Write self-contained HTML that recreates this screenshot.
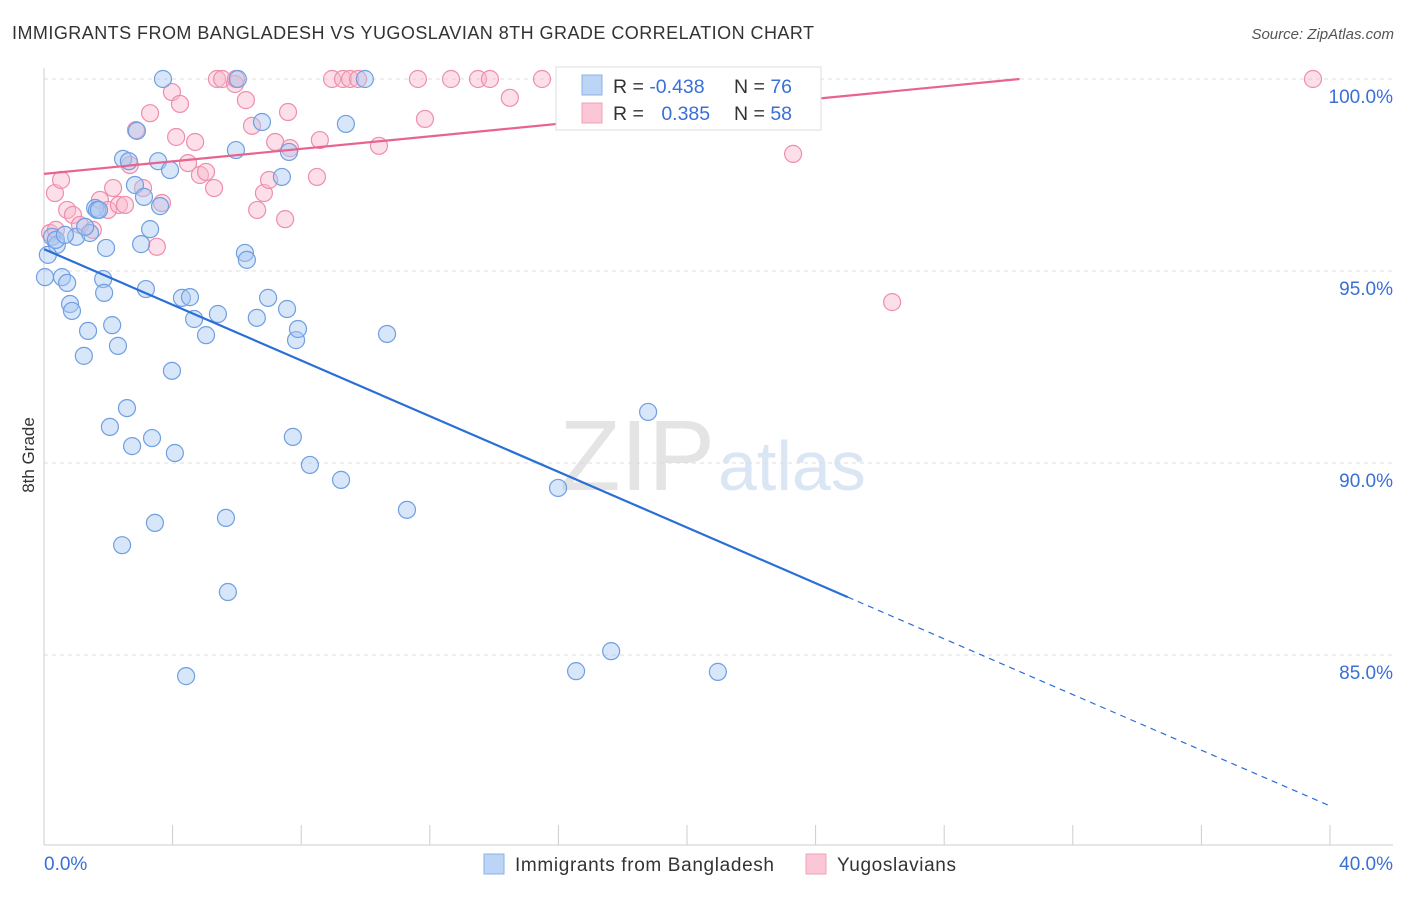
<!DOCTYPE html>
<html><head><meta charset="utf-8"><style>
body{margin:0;background:#fff;font-family:"Liberation Sans",sans-serif;}
svg text{font-family:"Liberation Sans",sans-serif;}
</style></head><body>
<svg id="c" width="1406" height="892" xmlns="http://www.w3.org/2000/svg">
<text x="12" y="39" font-size="18" fill="#333" textLength="802">IMMIGRANTS FROM BANGLADESH VS YUGOSLAVIAN 8TH GRADE CORRELATION CHART</text>
<text x="1394" y="39" font-size="15" fill="#555" text-anchor="end" font-style="italic">Source: ZipAtlas.com</text>
<text x="34" y="455" font-size="17" fill="#333" text-anchor="middle" transform="rotate(-90 34 455)">8th Grade</text>
<text x="715" y="490" font-size="100" fill="#e4e4e4" text-anchor="end" font-family="Liberation Serif">ZIP</text>
<text x="718" y="490" font-size="70" fill="#dbe6f5">atlas</text>
<g id="grid"></g><g id="pts"></g><g id="lines"></g>
<g>
<rect x="556" y="67" width="265" height="63" fill="#fff" stroke="#ddd"/>
<rect x="582" y="75" width="20" height="20" fill="#bcd4f5" stroke="#8ab0e8"/>
<rect x="582" y="103" width="20" height="20" fill="#fbc6d6" stroke="#f0a0b8"/>
<text x="613" y="93" font-size="19.5" fill="#333">R = <tspan fill="#3a6fd6">-0.438</tspan></text>
<text x="734" y="93" font-size="19.5" fill="#333">N = <tspan fill="#3a6fd6">76</tspan></text>
<text x="613" y="120" font-size="19.5" fill="#333">R = <tspan fill="#3a6fd6" dx="12">0.385</tspan></text>
<text x="734" y="120" font-size="19.5" fill="#333">N = <tspan fill="#3a6fd6">58</tspan></text>
</g>
<g>
<rect x="484" y="854" width="20" height="20" fill="#bcd4f5" stroke="#8ab0e8"/>
<text x="515" y="871" font-size="19" fill="#333" textLength="259">Immigrants from Bangladesh</text>
<rect x="806" y="854" width="20" height="20" fill="#fbc6d6" stroke="#f0a0b8"/>
<text x="837" y="871" font-size="19" fill="#333" textLength="119">Yugoslavians</text>
</g>
</svg>
<script>
const blueX=[3.70,6.03,9.98,0.25,0.03,0.40,0.56,0.72,0.81,0.87,1.00,1.24,1.37,1.43,1.59,1.65,1.71,1.84,1.87,1.93,2.12,2.30,2.05,2.46,2.58,2.64,2.74,2.83,2.89,3.02,3.11,3.17,3.30,3.36,3.45,3.55,3.61,3.92,3.98,4.07,4.29,4.42,4.54,4.67,5.04,5.41,5.66,5.72,5.97,6.25,6.31,6.62,6.78,6.97,7.40,7.56,7.62,7.74,7.84,7.90,8.27,9.24,9.39,10.67,11.29,15.99,16.55,17.64,18.79,20.96,2.43,0.12,0.37,0.65,1.28];
const blueY=[100,100,100,95.89,94.84,95.68,94.84,94.69,94.14,93.96,95.89,92.79,93.44,95.99,96.64,96.59,96.59,94.79,94.43,95.60,93.59,93.05,90.94,97.92,91.43,97.86,90.44,97.24,98.65,95.70,96.93,94.53,96.09,90.65,88.44,97.86,96.69,97.63,92.40,90.26,94.30,84.45,94.32,93.75,93.33,93.88,88.57,86.64,98.15,95.47,95.29,93.78,98.88,94.30,97.45,94.01,98.10,90.68,93.20,93.49,89.95,89.56,98.83,93.36,88.78,89.35,84.58,85.10,91.33,84.56,87.86,95.42,95.81,95.94,96.15];
const pinkX=[0.19,0.34,0.53,0.72,0.90,1.12,1.52,1.74,1.99,2.15,2.33,2.52,2.67,2.86,3.08,3.30,3.51,3.67,3.98,4.11,4.23,4.48,4.70,4.85,5.04,5.29,5.38,5.54,5.94,5.97,6.28,6.47,6.63,6.84,7.00,7.19,7.50,7.59,7.65,8.49,8.58,8.96,9.30,9.52,9.77,10.42,11.63,11.85,12.66,13.50,13.87,14.49,15.49,20.56,23.30,26.38,39.47,0.37];
const pinkY=[95.99,97.03,97.37,96.59,96.46,96.20,96.07,96.85,96.59,97.16,96.72,96.72,97.76,98.67,97.16,99.11,95.63,96.77,99.66,98.49,99.35,97.81,98.36,97.50,97.58,97.16,100,100,99.87,100,99.45,98.78,96.59,97.03,97.37,98.36,96.35,99.14,98.20,97.45,98.41,100,100,100,100,98.26,100,98.96,100,100,100,99.51,100,100,98.05,94.19,100,96.07];
const yTicks=[100,95,90,85];
const yTickLabels=["100.0%","95.0%","90.0%","85.0%"];
const xTicks=[0,4,8,12,16,20,24,28,32,36,40];
const xEndLabels=["0.0%","40.0%"];
const blueFit=[95.57,-0.3625];
const pinkFit=[97.53,0.0814];
const NS="http://www.w3.org/2000/svg";
const sx=v=>44+v*(1286/40), sy=v=>79+(100-v)*38.4;
function mk(t,a,p){const e=document.createElementNS(NS,t);for(const k in a)e.setAttribute(k,a[k]);p.appendChild(e);return e;}
const grid=document.getElementById('grid'),pts=document.getElementById('pts'),lines=document.getElementById('lines'),svg=document.getElementById('c');
yTicks.forEach((t,i)=>{
 const l=mk('line',{x1:44,x2:1393,y1:sy(t),y2:sy(t),stroke:'#ddd','stroke-dasharray':'4,4'},grid);
 
 
 const tx=mk('text',{x:1393,y:sy(t)+24,'font-size':19,fill:'#3a6fd6','text-anchor':'end'},grid);tx.textContent=yTickLabels[i];
 
 
});
const ax=mk('line',{x1:44,x2:1393,y1:845,y2:845,stroke:'#ccc'},grid);


const ay=mk('line',{x1:44,x2:44,y1:68,y2:845,stroke:'#ccc'},grid);


xTicks.forEach(t=>{const l=mk('line',{x1:sx(t),x2:sx(t),y1:825,y2:845,stroke:'#ccc'},grid);
 
 });
[[0,44,'start'],[40,1393,'end']].forEach(([v,x,a],i)=>{const tx=mk('text',{x:x,y:870,'font-size':19,fill:'#3a6fd6','text-anchor':a},grid);tx.textContent=xEndLabels[i];
 
 });
function dots(X,Y,f,s,name){X.forEach((x,i)=>{const c=mk('circle',{cx:sx(x),cy:sy(Y[i]),r:8.5,fill:f,'fill-opacity':0.45,stroke:s,'stroke-width':1.2},pts);
 
 });}
dots(pinkX,pinkY,'#f9b8cc','#ee8eac','yugoslavian-point');
dots(blueX,blueY,'#a9c8f2','#6f9fe2','bangladesh-point');
const b=x=>blueFit[0]+blueFit[1]*x;
const l1=mk('line',{x1:sx(0),y1:sy(b(0)),x2:sx(25),y2:sy(b(25)),stroke:'#2a6fd6','stroke-width':2.2},lines);


const l2=mk('line',{x1:sx(25),y1:sy(b(25)),x2:sx(40),y2:sy(b(40)),stroke:'#2a6fd6','stroke-width':1.2,'stroke-dasharray':'6,5'},lines);


const xe=(100-pinkFit[0])/pinkFit[1];
const l3=mk('line',{x1:sx(0),y1:sy(pinkFit[0]),x2:sx(xe),y2:sy(100),stroke:'#e8648e','stroke-width':2.2},lines);


</script>
</body></html>
